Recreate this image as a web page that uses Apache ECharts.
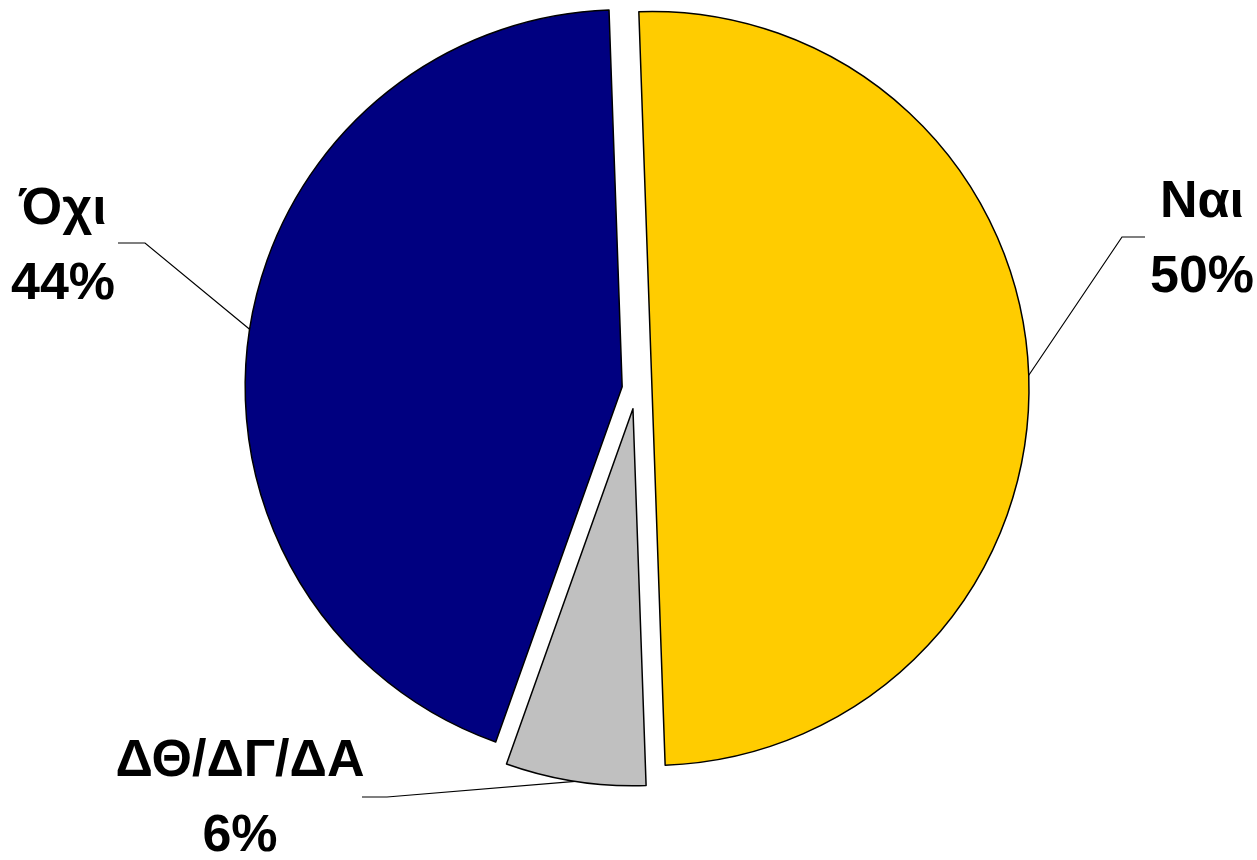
<!DOCTYPE html>
<html><head><meta charset="utf-8">
<script src="https://cdn.jsdelivr.net/npm/echarts@6/dist/echarts.min.js"></script>
<style>html,body{margin:0;padding:0;background:#fff}#chart{width:1257px;height:860px}</style>
</head><body><div id="chart"></div>
<script>
// ---- data ----
const categories = ['Ναι', 'ΔΘ/ΔΓ/ΔΑ', 'Όχι'];
const values = [50, 6, 44];

// ---- styles / layout ----
const colors = ['#FFCC00', '#C0C0C0', '#000080'];
const pieCenter = [636, 389];
const pieRadius = 377;
const startAngle = 92;
const explode = [16, 20, 14];
const labelAnchors = [
  { x: 1202, y: 240, hinge: [[1122, 237], [1145, 237]] },
  { x: 240, y: 799, hinge: [[387, 797], [362, 797]] },
  { x: 63, y: 247, hinge: [[145, 243], [118, 243]] }
];
const fontFamily = "'Liberation Sans Narrow', 'Arial Narrow', 'Liberation Sans', Arial, sans-serif";

const total = values.reduce((a, b) => a + b, 0);
let acc = 0;
const series = values.map((v, i) => {
  const mid = (startAngle - 360 * (acc + v / 2) / total) * Math.PI / 180;
  acc += v;
  const cx = pieCenter[0] + Math.cos(mid) * explode[i];
  const cy = pieCenter[1] - Math.sin(mid) * explode[i];
  return {
    type: 'pie',
    center: [cx, cy],
    radius: pieRadius,
    startAngle: startAngle,
    clockwise: true,
    animation: false,
    silent: true,
    avoidLabelOverlap: false,
    percentPrecision: 0,
    data: categories.map((name, j) => ({
      name: name,
      value: values[j],
      itemStyle: j === i
        ? { color: colors[j], borderColor: '#000', borderWidth: 1.5 }
        : { color: 'rgba(0,0,0,0)', borderWidth: 0 },
      label: { show: j === i },
      labelLine: { show: j === i }
    })),
    label: {
      position: 'outside',
      formatter: '{b}\n{d}%',
      fontFamily: fontFamily,
      fontWeight: 'bold',
      fontSize: 52,
      lineHeight: 75,
      color: '#000',
      align: 'center'
    },
    labelLine: { lineStyle: { color: '#000', width: 1.2 } },
    labelLayout: function (p) {
      if (p.dataIndex !== i) return {};
      const a = labelAnchors[i];
      const pts = p.labelLinePoints;
      return {
        x: a.x, y: a.y, align: 'center', verticalAlign: 'middle',
        labelLinePoints: [pts ? pts[0] : a.hinge[0], a.hinge[0], a.hinge[1]]
      };
    }
  };
});

const chart = echarts.init(document.getElementById('chart'), null, { renderer: 'canvas' });
chart.setOption({ backgroundColor: '#fff', animation: false, series: series });
</script>
</body></html>
